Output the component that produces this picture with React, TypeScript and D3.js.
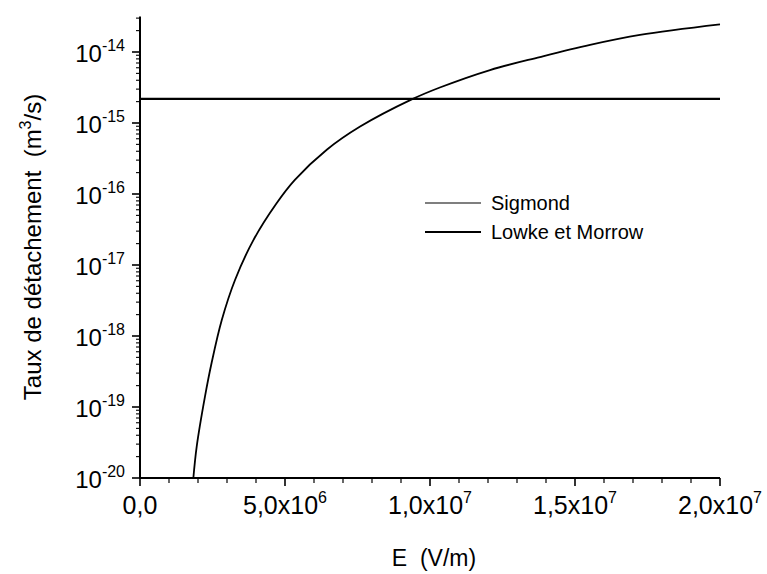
import React from "react";
import * as d3 from "d3";

const sigmondE = [1.84e6, 1.955e6, 2.24e6, 2.47e6, 2.82e6, 3.28e6, 3.91e6, 4.71e6, 5.34e6, 6.44e6, 7.59e6, 9.37e6, 1.034e7, 1.207e7, 1.379e7, 1.552e7, 1.724e7, 2.0e7];
const sigmondK = [1e-20, 2.77e-20, 1.4e-19, 4.2e-19, 1.68e-18, 6.2e-18, 2.24e-17, 7.4e-17, 1.58e-16, 4.2e-16, 8.9e-16, 2.15e-15, 3.16e-15, 5.57e-15, 8.5e-15, 1.26e-14, 1.74e-14, 2.45e-14];
const lowkeE = [0, 2.0e7];
const lowkeK = [2.18e-15, 2.18e-15];
const xTicks = [0, 5e6, 1e7, 1.5e7, 2e7];
const xTickMant = ["0,0", "5,0x10", "1,0x10", "1,5x10", "2,0x10"];
const xTickExp = ["", "6", "7", "7", "7"];
const yExps = [-20, -19, -18, -17, -16, -15, -14];
const legendNames = ["Sigmond", "Lowke et Morrow"];

const W = 767, H = 574;
const FONT = "'Liberation Sans', Arial, sans-serif";

export default function App() {
  const x = d3.scaleLinear().domain([0, 2e7]).range([140, 720]);
  const y = d3.scaleLog().domain([1e-20, Math.pow(10, -13.5)]).range([478, 16.5]);

  const sData = sigmondE.map((e, i) => [e, sigmondK[i]] as [number, number]);
  const lData = lowkeE.map((e, i) => [e, lowkeK[i]] as [number, number]);
  const line = d3.line<[number, number]>().x(d => x(d[0])).y(d => y(d[1])).curve(d3.curveCatmullRom.alpha(0.5));

  const xMinor = d3.range(0, 2e7 + 1, 1e6).filter(v => !xTicks.includes(v));
  const yMinor: number[] = [];
  for (let e = -20; e <= -14; e++) {
    for (let m = 2; m <= 9; m++) {
      const v = m * Math.pow(10, e);
      if (v <= Math.pow(10, -13.5)) yMinor.push(v);
    }
  }
  const [y0, y1] = y.range();
  const [x0, x1] = x.range();

  return (
    <svg width={W} height={H} style={{ position: "absolute", left: 0, top: 0, background: "#fff" }} fontFamily={FONT}>
      <rect width={W} height={H} fill="#fff" />
      {/* axes */}
      <line x1={x0} x2={x0} y1={y1} y2={y0 + 0.5} stroke="#000" strokeWidth={2} />
      <line x1={x0} x2={x1} y1={y0} y2={y0} stroke="#000" strokeWidth={2} />
      {xTicks.map((v, i) => (
        <g key={"xt" + i}>
          <line x1={x(v)} x2={x(v)} y1={y0} y2={y0 + 8} stroke="#000" strokeWidth={1.6} />
          <text x={x(v)} y={y0 + 36} textAnchor="middle" fontSize={25} fill="#000">
            {xTickMant[i]}
            {xTickExp[i] && <tspan dy={-11} fontSize={16}>{xTickExp[i]}</tspan>}
          </text>
        </g>
      ))}
      {xMinor.map((v, i) => (
        <line key={"xm" + i} x1={x(v)} x2={x(v)} y1={y0} y2={y0 + 5} stroke="#000" strokeWidth={1.2} />
      ))}
      {yExps.map((e, i) => (
        <g key={"yt" + i}>
          <line x1={x0 - 8} x2={x0} y1={y(Math.pow(10, e))} y2={y(Math.pow(10, e))} stroke="#000" strokeWidth={1.6} />
          <text x={x0 - 15} y={y(Math.pow(10, e)) + 10} textAnchor="end" fontSize={24} fill="#000">
            10<tspan dy={-11} fontSize={16}>{String(e)}</tspan>
          </text>
        </g>
      ))}
      {yMinor.map((v, i) => (
        <line key={"ym" + i} x1={x0 - 4} x2={x0} y1={y(v)} y2={y(v)} stroke="#000" strokeWidth={1.1} />
      ))}
      {/* axis titles */}
      <text x={434} y={566} textAnchor="middle" fontSize={23} fill="#000" style={{ whiteSpace: "pre" }}>{"E  (V/m)"}</text>
      <text transform={`translate(41,247) rotate(-90)`} textAnchor="middle" fontSize={24} fill="#000" style={{ whiteSpace: "pre" }}>
        {"Taux de détachement  (m"}<tspan dy={-10} fontSize={16}>3</tspan><tspan dy={10}>/s)</tspan>
      </text>
      {/* series */}
      <path d={line(sData) || ""} fill="none" stroke="#000" strokeWidth={1.8} />
      <path d={line(lData) || ""} fill="none" stroke="#000" strokeWidth={2.3} />
      {/* legend */}
      <line x1={425} x2={481} y1={203} y2={203} stroke="#000" strokeWidth={1.2} />
      <text x={491} y={210} fontSize={20} fill="#000">{legendNames[0]}</text>
      <line x1={425} x2={481} y1={232} y2={232} stroke="#000" strokeWidth={2.2} />
      <text x={491} y={239} fontSize={20} fill="#000">{legendNames[1]}</text>
    </svg>
  );
}
